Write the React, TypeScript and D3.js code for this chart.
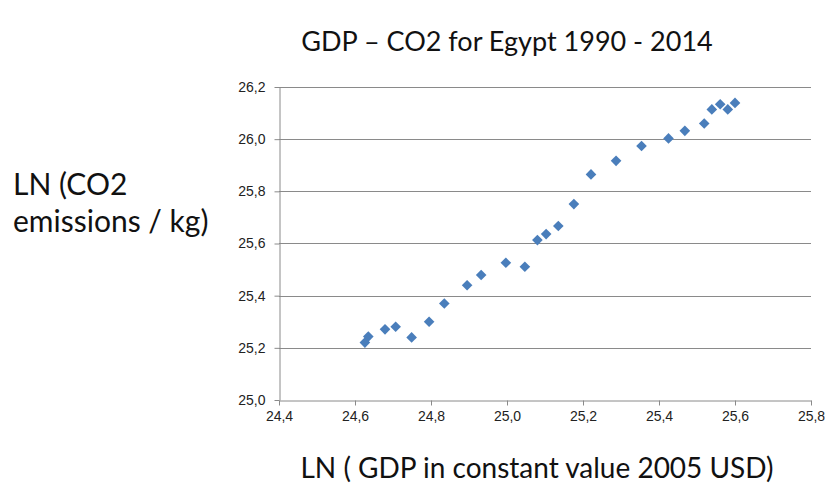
import React, { useEffect, useRef } from "react";
import * as d3 from "d3";

// LN(GDP) values, 1990 - 2014
const lnGdp = [
  24.626, 24.635, 24.679, 24.707, 24.749, 24.795, 24.835, 24.895, 24.932,
  24.997, 25.047, 25.08, 25.103, 25.135, 25.176, 25.221, 25.287, 25.354,
  25.425, 25.468, 25.519, 25.539, 25.561, 25.581, 25.6,
];

// LN(CO2) values, same order
const lnCo2 = [
  25.22, 25.243, 25.271, 25.281, 25.24, 25.3, 25.37, 25.44, 25.479, 25.526,
  25.511, 25.613, 25.636, 25.667, 25.751, 25.865, 25.917, 25.974, 26.003,
  26.032, 26.06, 26.114, 26.134, 26.114, 26.139,
];

const xTicks = [24.4, 24.6, 24.8, 25.0, 25.2, 25.4, 25.6, 25.8];
const yTicks = [25.0, 25.2, 25.4, 25.6, 25.8, 26.0, 26.2];

const W = 831;
const H = 487;

const fmt = (v: number) => v.toFixed(1).replace(".", ",");

const App: React.FC = () => {
  const svgRef = useRef<SVGSVGElement | null>(null);

  useEffect(() => {
    if (!svgRef.current) return;
    const svg = d3.select(svgRef.current);
    svg.selectAll("*").remove();

    const margin = { left: 279, right: W - 811, top: 87, bottom: H - 400 };

    const x = d3
      .scaleLinear()
      .domain([24.4, 25.8])
      .range([margin.left, W - margin.right]);
    const y = d3
      .scaleLinear()
      .domain([25.0, 26.2])
      .range([H - margin.bottom, margin.top]);

    const grey = "#8a8a8a";

    // gridlines
    svg
      .append("g")
      .selectAll("line")
      .data(yTicks.slice(1))
      .join("line")
      .attr("x1", x(24.4))
      .attr("x2", x(25.8))
      .attr("y1", (d) => Math.round(y(d)) + 0.5)
      .attr("y2", (d) => Math.round(y(d)) + 0.5)
      .attr("stroke", grey)
      .attr("stroke-width", 1);

    // x axis
    const xAxis = d3
      .axisBottom(x)
      .tickValues(xTicks)
      .tickFormat((d) => fmt(d as number))
      .tickSizeInner(5)
      .tickSizeOuter(0)
      .tickPadding(6);
    const gx = svg
      .append("g")
      .attr("transform", `translate(0,${Math.round(y(25.0)) + 0.5})`)
      .call(xAxis);

    // y axis
    const yAxis = d3
      .axisLeft(y)
      .tickValues(yTicks)
      .tickFormat((d) => fmt(d as number))
      .tickSizeInner(5)
      .tickSizeOuter(0)
      .tickPadding(9);
    const gy = svg
      .append("g")
      .attr("transform", `translate(${Math.round(x(24.4)) + 0.5},0)`)
      .call(yAxis);

    [gx, gy].forEach((g) => {
      g.selectAll("path, line").attr("stroke", grey);
      g.selectAll("text")
        .attr("fill", "#222")
        .style("font-family", "'Liberation Sans', Arial, sans-serif")
        .style("font-size", "14px");
    });

    // points
    const pts = lnGdp.map((g, i) => ({ gdp: g, co2: lnCo2[i] }));
    const diamond = d3.symbol().type(d3.symbolDiamond2).size(72);
    svg
      .append("g")
      .selectAll("path")
      .data(pts)
      .join("path")
      .attr("d", diamond)
      .attr("transform", (d) => `translate(${x(d.gdp)},${y(d.co2)})`)
      .attr("fill", "#4a7ebb");

    const titleFont = "Lato, 'Open Sans', sans-serif";

    svg
      .append("text")
      .attr("x", 507)
      .attr("y", 51)
      .attr("text-anchor", "middle")
      .style("font-family", titleFont)
      .style("font-size", "27px")
      .attr("fill", "#111")
      .text("GDP – CO2 for Egypt 1990 - 2014");

    const yl = svg
      .append("text")
      .style("font-family", titleFont)
      .style("font-size", "30px")
      .attr("fill", "#111");
    yl.append("tspan").attr("x", 13).attr("y", 195).text("LN (CO2");
    yl.append("tspan").attr("x", 13).attr("y", 232).text("emissions / kg)");

    svg
      .append("text")
      .attr("x", 537)
      .attr("y", 478)
      .attr("text-anchor", "middle")
      .style("font-family", titleFont)
      .style("font-size", "28px")
      .attr("fill", "#111")
      .text("LN ( GDP in constant value 2005 USD)");
  }, []);

  return (
    <svg
      ref={svgRef}
      width={W}
      height={H}
      style={{ position: "absolute", left: 0, top: 0, background: "#fff" }}
    />
  );
};

export default App;
